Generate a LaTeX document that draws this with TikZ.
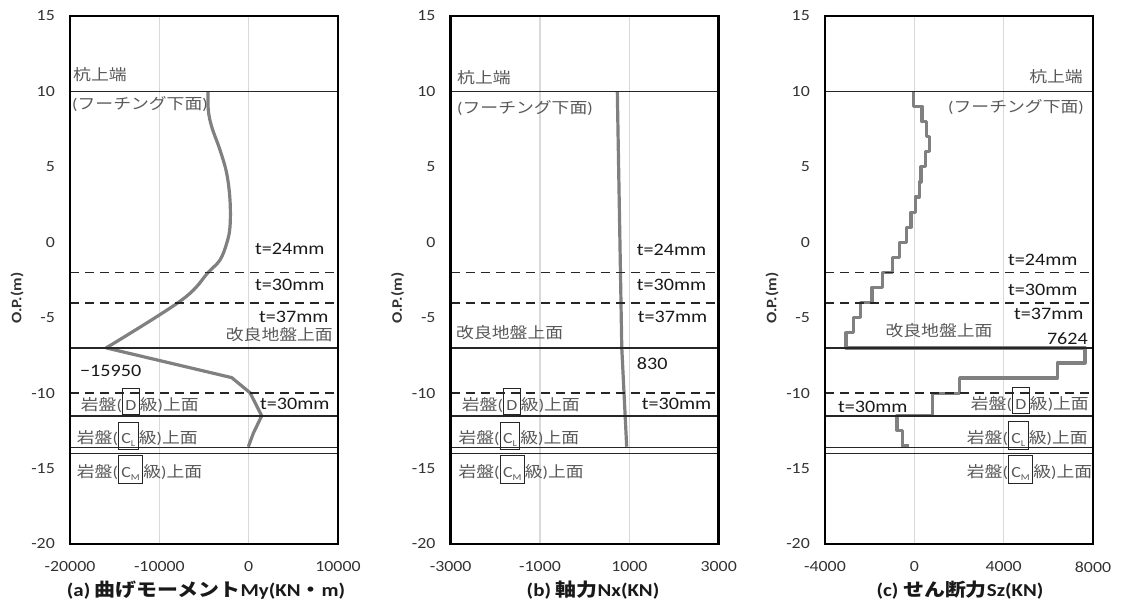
\documentclass[tikz,border=0pt]{standalone}
\usepackage{fontspec}
\setmainfont{Carlito}[FakeStretch=1.15]
\newfontfamily\jp{Noto Sans CJK JP}[FakeStretch=1.15]

\definecolor{curvegray}{RGB}{128,128,128}
\definecolor{gridgray}{RGB}{217,217,217}
\definecolor{txtgray}{RGB}{89,89,89}
\definecolor{tickgray}{RGB}{50,50,50}

% labels used in all three panels
\newcommand{\pile}{{\jp 杭上端}}
\newcommand{\footing}{({\jp フーチング下面})}
\newcommand{\kairyo}{{\jp 改良地盤上面}}
\newcommand{\rkbox}[1]{{\color{black!85}\setlength{\fboxsep}{2.5pt}\setlength{\fboxrule}{1pt}\fbox{\rule[-1.5pt]{0pt}{20pt}\color{txtgray}#1}}}
\newcommand{\rock}[1]{{\jp 岩盤}(\rkbox{#1}{\jp 級}){\jp 上面}}
\newcommand{\cl}{C\raisebox{-3pt}{\fontsize{9}{9}\selectfont L}}
\newcommand{\cm}{C\raisebox{-3pt}{\fontsize{9}{9}\selectfont M}}

\begin{document}
\begin{tikzpicture}[x=1pt,y=1pt,
  frame/.style={black,line width=2.6pt},
  gridln/.style={gridgray,line width=1.2pt},
  lvl/.style={black!85,line width=1.5pt},
  lvldash/.style={black!85,line width=1.9pt,dash pattern=on 9pt off 6pt},
  result/.style={curvegray,line width=3.2pt,line join=round},
  tick/.style={tickgray,font=\fontsize{15.5}{18}\selectfont,inner sep=0pt},
  tlab/.style={black!90,font=\fontsize{17.5}{20}\selectfont,inner sep=0pt,anchor=west},
  glab/.style={txtgray,font=\fontsize{15.5}{18}\selectfont,inner sep=0pt},
  ttl/.style={black!90,font=\fontsize{18.2}{21}\selectfont\bfseries,inner sep=0pt}]

\useasboundingbox (0,0) rectangle (1121,608);

% grid, y ticks, axis title
\foreach \L/\p in {70/a,450.7/b,825/c} {
  \begin{scope}[shift={(\L,365.7)},y=15.086pt]
    \draw[gridln] (89.33,-20) -- (89.33,15);
    \draw[gridln] (178.67,-20) -- (178.67,15);
    \foreach \v in {15,10,...,-20}
      \node[tick,anchor=east] (y\p\v) at (-15,\v) {\v};
    \node[tick,font=\fontsize{14.5}{16}\selectfont\bfseries,rotate=90] (op\p) at (-53,-3.7) {O.P.(m)};
  \end{scope}
}

% x ticks
\begin{scope}[shift={(70,365.7)},y=15.086pt]
  \foreach \i/\t in {0/-20000,89.33/-10000,178.67/0,268/10000}
    \node[tick] (xa\i) at (\i,-21.52) {\t};
\end{scope}
\begin{scope}[shift={(450.7,365.7)},y=15.086pt]
  \foreach \i/\t in {0/-3000,89.33/-1000,178.67/1000,268/3000}
    \node[tick] (xb\i) at (\i,-21.52) {\t};
\end{scope}
\begin{scope}[shift={(825,365.7)},y=15.086pt]
  \foreach \i/\t in {0/-4000,89.33/0,178.67/4000,268/8000}
    \node[tick] (xc\i) at (\i,-21.52) {\t};
\end{scope}

% (a) moment
\begin{scope}[shift={(70,365.7)},y=15.086pt]
  \begin{scope}[shift={(178.67,0)},x=8.933pt]
    \draw[result] plot[smooth,tension=0.6] coordinates {(-4.55,10) (-4.52,8.77) (-4.14,7.66) (-3.21,6.12) (-2.46,4.57) (-2.09,2.8) (-2.09,1.03) (-2.46,-0.07) (-3.21,-1.17) (-4.52,-1.99) (-7.5,-3.83) (-15.95,-7)}
      -- (-1.9,-8.97) -- (0.15,-9.97) -- (1.46,-11.5) -- (0.52,-12.66) -- (-0.04,-13.55);
  \end{scope}
  \node[glab,anchor=west] (pa-top) at (3,11.09) {\pile};
  \node[glab,anchor=west] (pa-ft) at (2,9.17) {\footing};
  \node[tlab] (pa-t24) at (185,-0.44) {t=24mm};
  \node[tlab] (pa-t30) at (185,-2.83) {t=30mm};
  \node[tlab] (pa-t37) at (189,-4.95) {t=37mm};
  \node[glab,anchor=east] (pa-kr) at (263,-6.15) {\kairyo};
  \node[tlab] (pa-max) at (10,-8.53) {−15950};
  \node[glab,anchor=west] (pa-d) at (10.7,-10.57) {\rock{D}};
  \node[tlab] (pa-t30b) at (190,-10.72) {t=30mm};
  \node[glab,anchor=west] (pa-cl) at (6.7,-12.85) {\rock{\cl}};
  \node[glab,anchor=west] (pa-cm) at (6.7,-15.05) {\rock{\cm}};
\end{scope}

% (b) axial force
\begin{scope}[shift={(450.7,365.7)},y=15.086pt]
  \begin{scope}[shift={(134,0)},x=44.667pt]
    \draw[result] (0.73,10) -- (0.83,-7) -- (0.94,-13.55);
  \end{scope}
  \node[glab,anchor=west] (pb-top) at (6.3,10.89) {\pile};
  \node[glab,anchor=west] (pb-ft) at (6.3,8.9) {\footing};
  \node[tlab] (pb-t24) at (186,-0.51) {t=24mm};
  \node[tlab] (pb-t30) at (186,-2.83) {t=30mm};
  \node[tlab] (pb-t37) at (187,-4.95) {t=37mm};
  \node[glab,anchor=west] (pb-kr) at (5.3,-6.01) {\kairyo};
  \node[tlab] (pb-max) at (186,-8.07) {830};
  \node[glab,anchor=west] (pb-d) at (11,-10.57) {\rock{D}};
  \node[tlab] (pb-t30b) at (191,-10.72) {t=30mm};
  \node[glab,anchor=west] (pb-cl) at (7.6,-12.85) {\rock{\cl}};
  \node[glab,anchor=west] (pb-cm) at (7.6,-15.05) {\rock{\cm}};
\end{scope}

% (c) shear force
\begin{scope}[shift={(825,365.7)},y=15.086pt]
  \begin{scope}[shift={(89.33,0)},x=22.333pt]
    \draw[result] (-0.04,10) |- (0.34,9) |- (0.53,8) |- (0.67,7) |- (0.49,6) |- (0.30,5)
      |- (0.22,4) |- (0.04,3) |- (-0.15,2) |- (-0.36,1) |- (-0.66,0) |- (-0.99,-1)
      |- (-1.41,-2) |- (-1.90,-3) |- (-2.40,-4) |- (-2.73,-5) |- (-3.06,-6)
      |- (7.64,-7) |- (6.40,-8) |- (2.03,-9) |- (0.82,-10) |- (-0.78,-11.5)
      |- (-0.53,-12.45) |- (-0.23,-13.5);
  \end{scope}
  \node[glab,anchor=east] (pc-top) at (258,10.96) {\pile};
  \node[glab,anchor=east] (pc-ft) at (259,8.97) {\footing};
  \node[tlab] (pc-t24) at (183,-1.17) {t=24mm};
  \node[tlab] (pc-t30) at (183,-3.16) {t=30mm};
  \node[tlab] (pc-t37) at (189,-4.75) {t=37mm};
  \node[glab] (pc-kr) at (114,-5.88) {\kairyo};
  \node[tlab,anchor=east] (pc-max) at (263,-6.41) {7624};
  \node[glab,anchor=west] (pc-d) at (145.7,-10.51) {\rock{D}};
  \node[tlab] (pc-t30b) at (13,-10.92) {t=30mm};
  \node[glab,anchor=west] (pc-cl) at (141.7,-12.8) {\rock{\cl}};
  \node[glab,anchor=west] (pc-cm) at (141.7,-15.05) {\rock{\cm}};
\end{scope}

% level lines and frames on top
\foreach \L in {70,450.7,825} {
  \begin{scope}[shift={(\L,365.7)},y=15.086pt]
    \foreach \h in {10,-7,-11.5,-13.6,-14}
      \draw[lvl] (0,\h) -- (268,\h);
    \foreach \h in {-2,-4,-10}
      \draw[lvldash] (0,\h) -- (268,\h);
    \draw[frame] (0,-20) rectangle (268,15);
  \end{scope}
}

% panel titles
\node[ttl] (ttl-a) at (206,18) {(a) {\jp 曲げモーメント}My(KN{\jp ・}m)};
\node[ttl] (ttl-b) at (593,18) {(b) {\jp 軸力}Nx(KN)};
\node[ttl] (ttl-c) at (960,18) {(c) {\jp せん断力}Sz(KN)};

\end{tikzpicture}
\end{document}
